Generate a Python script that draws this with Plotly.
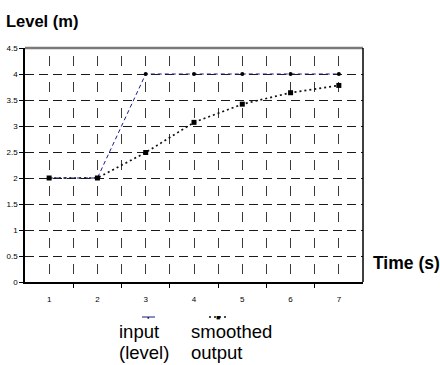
import plotly.graph_objects as go

time_s = [1, 2, 3, 4, 5, 6, 7]
input_level = [2, 2, 4, 4, 4, 4, 4]
smoothed_output = [2, 2, 2.49, 3.07, 3.42, 3.64, 3.78]
y_ticks = [0, 0.5, 1, 1.5, 2, 2.5, 3, 3.5, 4, 4.5]
y_tick_labels = ["0", "0.5", "1", "1.5", "2", "2.5", "3", "3.5", "4", "4.5"]

W, H = 440, 365
L, R, T, B = 25, 77, 48, 83
pw, ph = W - L - R, H - T - B

def px(x):
    return (x - L) / pw

def py(y):
    return (H - B - y) / ph

FONT = "Liberation Sans, Arial, sans-serif"

fig = go.Figure()
fig.add_trace(go.Scatter(
    x=time_s, y=input_level, mode="lines+markers", name="input (level)",
    line=dict(color="#1a1a8c", width=1, dash="4px,3px"),
    marker=dict(color="black", size=4, symbol="circle"),
    cliponaxis=False,
))
fig.add_trace(go.Scatter(
    x=time_s, y=smoothed_output, mode="lines+markers", name="smoothed output",
    line=dict(color="#111111", width=1.7, dash="2px,3px"),
    marker=dict(color="black", size=5, symbol="square"),
    cliponaxis=False,
))

vgrid = "#3a3a3a"
hgrid = "#1a1a1a"
vdash = "0px,8px,10px,8px"
fig.update_xaxes(
    range=[0.5, 7.5], tickvals=time_s, ticktext=[str(t) for t in time_s],
    showgrid=True, gridcolor=vgrid, gridwidth=1, griddash=vdash,
    showline=True, linecolor="black", linewidth=1.5,
    ticks="", ticklabelstandoff=9,
    tickfont=dict(family=FONT, size=8, color="black"),
    minor=dict(tickvals=[1.5, 2.5, 3.5, 4.5, 5.5, 6.5], showgrid=True,
               gridcolor=vgrid, gridwidth=1, griddash=vdash,
               ticks="outside", ticklen=4, tickcolor="black", tickwidth=1),
    zeroline=False, fixedrange=True, automargin=False,
)
fig.update_yaxes(
    range=[0, 4.5], tickvals=y_ticks, ticktext=y_tick_labels,
    showgrid=True, gridcolor=hgrid, gridwidth=1, griddash="9px,5px",
    showline=True, linecolor="black", linewidth=1.5,
    ticks="outside", ticklen=4, tickcolor="black",
    tickfont=dict(family=FONT, size=8, color="black"),
    zeroline=False, fixedrange=True, automargin=False,
)

shapes = [
    dict(type="line", xref="paper", yref="paper", x0=0, x1=1, y0=1, y1=1,
         line=dict(color="#7a7a7a", width=2.5)),
    dict(type="line", xref="paper", yref="paper", x0=1, x1=1, y0=0, y1=1,
         line=dict(color="black", width=1.5)),
    # legend samples
    dict(type="line", xref="paper", yref="paper", x0=px(142), x1=px(155), y0=py(317), y1=py(317),
         line=dict(color="#1a1a8c", width=1)),
    dict(type="line", xref="paper", yref="paper", x0=px(209), x1=px(226), y0=py(317), y1=py(317),
         line=dict(color="#111111", width=1.7, dash="2px,3px")),
]

def label(text, x, y, size=18.5, bold=False):
    return dict(text=f"<b>{text}</b>" if bold else text, xref="paper", yref="paper",
                x=px(x), y=py(y), xanchor="left", yanchor="middle", showarrow=False,
                font=dict(family=FONT, size=size, color="black"))

annotations = [
    label("Level (m)", 4, 21, size=16.5, bold=True),
    label("Time (s)", 371, 263, size=17.5, bold=True),
    label("input", 117, 331),
    label("(level)", 117, 352),
    label("smoothed", 189, 331),
    label("output", 189, 352),
    dict(text="●", xref="paper", yref="paper", x=px(148.5), y=py(317),
         xanchor="center", yanchor="middle", showarrow=False,
         font=dict(size=4, color="black")),
    dict(text="■", xref="paper", yref="paper", x=px(217.5), y=py(317),
         xanchor="center", yanchor="middle", showarrow=False,
         font=dict(size=7, color="black")),
]

fig.update_layout(
    width=W, height=H, margin=dict(l=L, r=R, t=T, b=B),
    plot_bgcolor="white", paper_bgcolor="white",
    showlegend=False, shapes=shapes, annotations=annotations,
)
fig.write_html(
    "out.html",
    config={"displayModeBar": False},
    post_script="document.body.style.margin='0';document.body.style.overflow='hidden';",
)
